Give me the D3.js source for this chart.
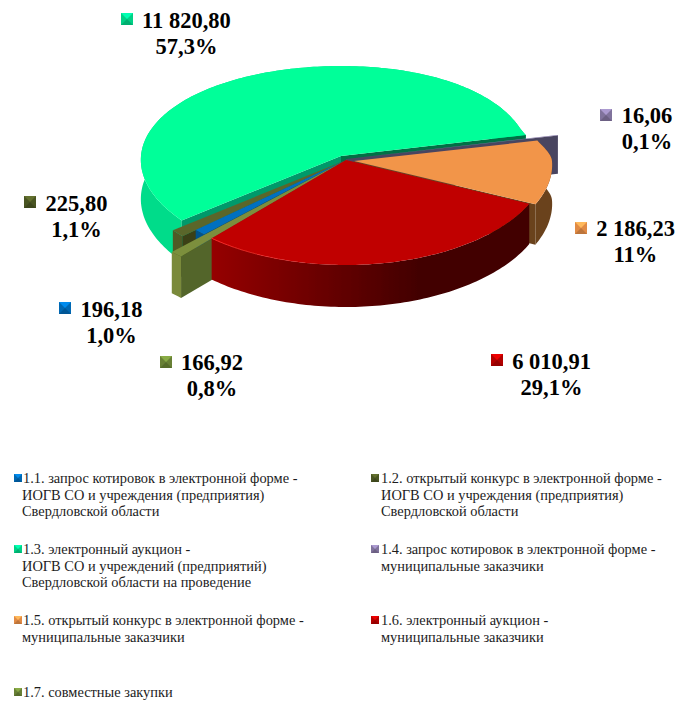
<!DOCTYPE html>
<html>
<head>
<meta charset="utf-8">
<script src="https://cdn.jsdelivr.net/npm/d3@7"></script>
<style>
  html, body { margin: 0; padding: 0; background: #fff; }
  text { font-family: "Liberation Serif", serif; fill: #000; }
  .val { font-size: 22.5px; font-weight: bold; }
  .leg { font-size: 14.4px; fill: #1c1c1c; }
</style>
</head>
<body>
<svg id="chart" width="690" height="702"></svg>
<script>
// chart values, in pie order
var values = [196.18, 225.80, 11820.80, 16.06, 2186.23, 6010.91, 166.92];
var percents = ["1,0%", "1,1%", "57,3%", "0,1%", "11%", "29,1%", "0,8%"];
var legendLines = [
  ["1.1. запрос котировок в электронной форме -", "ИОГВ СО и учреждения (предприятия)", "Свердловской области"],
  ["1.2. открытый конкурс в электронной форме -", "ИОГВ СО и учреждения (предприятия)", "Свердловской области"],
  ["1.3. электронный аукцион -", "ИОГВ СО и учреждений (предприятий)", "Свердловской области на проведение"],
  ["1.4. запрос котировок в электронной форме -", "муниципальные заказчики"],
  ["1.5. открытый конкурс в электронной форме -", "муниципальные заказчики"],
  ["1.6. электронный аукцион -", "муниципальные заказчики"],
  ["1.7. совместные закупки"]
];

// colours per slice
var topColors  = ["#0070c0", "#5a662c", "#00ff99", "#7d6fa0", "#f2954a", "#c00000", "#7b8f3c"];
var rimColors  = ["#00528c", "#4f5a26", "#00dc8a", "#4a4560", "#6a421e", "url(#redRim)", "#7a8a3a"];
var startWallColors = ["#004a80", "#3a4014", "#00996a", "#4a4560", "#6a421e", "#5a0000", "#53652a"];
var endWallColors   = ["#004a80", "#3a4014", "#006f45", "#4a4560", "#6a421e", "#5a0000", "#53652a"];
var keyColors  = ["#0070c0", "#4f5a26", "#00e090", "#8a7ca8", "#f2954a", "#c00000", "#6f8a38"];

// slice geometry: how far each one sticks out and shifts
var radiusFactor = [1, 1.085, 1, 1.145, 0.99, 1, 1.22];
var shiftX = [0, 0, -5, 0, 8, 0, 0];
var shiftY = [0, 0, -4, -1, 1, 0, 0];

// label placement
var labelX  = [111.5, 76.5, 186.5, 647, 635.5, 551.5, 212];
var labelY  = [317, 211, 28, 123, 236, 369, 370];
var keyX    = [59, 24, 121, 600, 575, 491, 160];
var keyY    = [302, 196, 13, 109, 222, 354, 356];
var legendX = [14, 371, 14, 371, 14, 371, 14];
var legendY = [483, 483, 554, 554, 625, 625, 697];

var svg = d3.select("#chart");
var defs = svg.append("defs");

var cx = 346, cy = 160, rx = 200, ry = 97.5, perspX = 0.04, perspY = 0.077, depth = 39;

defs.append("filter").attr("id", "soft")
  .append("feGaussianBlur").attr("stdDeviation", 0.45);
defs.append("filter").attr("id", "softer")
  .append("feGaussianBlur").attr("stdDeviation", 0.7);

var grad = defs.append("linearGradient").attr("id", "redRim")
  .attr("gradientUnits", "userSpaceOnUse")
  .attr("x1", 210).attr("x2", 420).attr("y1", 0).attr("y2", 0);
grad.append("stop").attr("offset", 0).attr("stop-color", "#960000");
grad.append("stop").attr("offset", 1).attr("stop-color", "#420000");

var shine = defs.append("linearGradient").attr("id", "redShine")
  .attr("gradientUnits", "userSpaceOnUse")
  .attr("x1", 212).attr("x2", 330).attr("y1", 0).attr("y2", 0);
shine.append("stop").attr("offset", 0).attr("stop-color", "#ff2a2a");
shine.append("stop").attr("offset", 1).attr("stop-color", "#ff2a2a").attr("stop-opacity", 0);

var pie = d3.pie().sort(null)
  .startAngle(223.6 * Math.PI / 180)
  .endAngle(223.6 * Math.PI / 180 + 2 * Math.PI);
var arcs = pie(values);

function project(i, angle, rf, z) {
  var a = angle - Math.PI / 2, sn = Math.sin(a), cs = Math.cos(a);
  // the far right quarter of the disc is pulled in a little
  var t = Math.min(1, Math.max(0, -sn / 0.3));
  var pull = cs > 0 ? 0.055 * t * t * (3 - 2 * t) * cs : 0;
  return [
    cx + shiftX[i] + rx * rf * cs * (1 + perspX * rf * sn - pull),
    cy + shiftY[i] + ry * rf * sn * (1 + perspY * rf * sn) + z * (1 + perspY * sn)
  ];
}

function sweep(d) {
  var n = Math.max(2, Math.ceil((d.endAngle - d.startAngle) / 0.02));
  return d3.range(n + 1).map(function(k) {
    return d.startAngle + (d.endAngle - d.startAngle) * k / n;
  });
}

function wall(i, ang, rf) {
  return line([
    project(i, ang, 0, 0), project(i, ang, rf, 0),
    project(i, ang, rf, depth), project(i, ang, 0, depth)
  ]) + "Z";
}

var line = d3.line();
var plot = svg.append("g").attr("filter", "url(#soft)");

// back slices first, so the nearer ones cover them
var drawOrder = [2, 1, 0, 3, 4, 6, 5];

drawOrder.forEach(function(i) {
  var d = arcs[i], rf = radiusFactor[i], angles = sweep(d);
  var g = plot.append("g");

  var upper = angles.map(function(a) { return project(i, a, rf, 0); });
  var lower = angles.map(function(a) { return project(i, a, rf, depth); }).reverse();
  g.append("path").attr("d", line(upper.concat(lower)) + "Z").attr("fill", rimColors[i]);

  // a cut face only shows when it turns towards the viewer
  if (Math.cos(d.startAngle - Math.PI / 2) < 0) {
    g.append("path").attr("d", wall(i, d.startAngle, rf)).attr("fill", startWallColors[i]);
  }
  if (Math.cos(d.endAngle - Math.PI / 2) > 0) {
    g.append("path").attr("d", wall(i, d.endAngle, rf)).attr("fill", endWallColors[i]);
  }

  var top = [project(i, 0, 0, 0)].concat(upper);
  g.append("path").attr("d", line(top) + "Z").attr("fill", topColors[i]);

  // the red slice catches a little light on its near edge
  if (i === 5) {
    g.append("path").attr("d", line(upper)).attr("fill", "none")
      .attr("stroke", "url(#redShine)").attr("stroke-width", 1);
  }
});

// small bevelled square, used for both label keys and the legend
function drawKey(x, y, size, color) {
  var k = svg.append("g").attr("transform", "translate(" + x + "," + y + ")")
    .attr("filter", "url(#softer)");
  var c = d3.color(color), m = size / 2;
  k.append("rect").attr("width", size).attr("height", size).attr("fill", c.darker(0.2));
  k.append("path").attr("d", line([[0, 0], [size, 0], [m, m]]) + "Z").attr("fill", c.brighter(0.6));
  k.append("path").attr("d", line([[0, size], [m, m], [size, size]]) + "Z").attr("fill", c.darker(0.7));
}

var fmt = d3.formatLocale({ decimal: ",", thousands: " ", grouping: [3], currency: ["", ""] }).format(",.2f");

values.forEach(function(v, i) {
  drawKey(keyX[i], keyY[i], 12, keyColors[i]);
  svg.append("text").attr("class", "val").attr("text-anchor", "middle")
    .attr("x", labelX[i]).attr("y", labelY[i]).text(fmt(v));
  svg.append("text").attr("class", "val").attr("text-anchor", "middle")
    .attr("x", labelX[i]).attr("y", labelY[i] + 25.5).text(percents[i]);
});

legendLines.forEach(function(lines, i) {
  drawKey(legendX[i], legendY[i] - 9, 8, keyColors[i]);
  lines.forEach(function(t, j) {
    svg.append("text").attr("class", "leg")
      .attr("x", legendX[i] + (i % 2 ? 10 : (j === 0 ? 9 : 8)))
      .attr("y", legendY[i] + j * 16.5)
      .text(t);
  });
});
</script>
</body>
</html>
